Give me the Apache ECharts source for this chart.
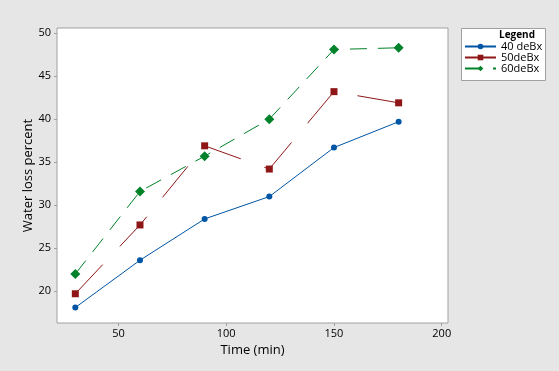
<!DOCTYPE html>
<html><head><meta charset="utf-8">
<script src="https://cdn.jsdelivr.net/npm/echarts@6/dist/echarts.min.js"></script>
<style>html,body{margin:0;padding:0;background:#e6e6e6;}#c{width:559px;height:371px;}</style>
</head><body><div id="c"></div>
<script>
var timeMin = [30, 60, 90, 120, 150, 180];
var s40 = [18.1, 23.6, 28.4, 31.0, 36.7, 39.7];
var s50 = [19.7, 27.7, 36.9, 34.2, 43.2, 41.9];
var s60 = [22.0, 31.6, 35.7, 40.0, 48.1, 48.3];
var seriesNames = ['40 deBx', '50deBx', '60deBx'];
var xTicks = [50, 100, 150, 200];
var yTicks = [20, 25, 30, 35, 40, 45, 50];

function pairs(ys){ return timeMin.map(function(x,i){return [x, ys[i]];}); }
var font = "'Open Sans', 'Noto Sans', sans-serif";
var chart = echarts.init(document.getElementById('c'), null, {renderer:'canvas'});
chart.setOption({
  backgroundColor: '#e6e6e6',
  animation: false,
  textStyle: {fontFamily: font},
  grid: {left: 57, top: 28, right: 111, bottom: 48, show: true, backgroundColor: '#ffffff', borderColor: '#a0a0a0', borderWidth: 1},
  xAxis: {
    type: 'value', min: 21.5, max: 202.9,
    name: 'Time (min)', nameLocation: 'middle', nameGap: 21,
    nameTextStyle: {fontSize: 13, color: '#000', fontFamily: font},
    axisLine: {show: false},
    axisTick: {show: true, length: 3, lineStyle: {color: '#a0a0a0'}, customValues: xTicks},
    axisLabel: {fontSize: 11, color: '#000', margin: 5, customValues: xTicks, fontFamily: font},
    splitLine: {show: false}
  },
  yAxis: {
    type: 'value', min: 16.3, max: 50.6,
    name: 'Water loss percent', nameLocation: 'middle', nameGap: 22, nameRotate: 90,
    nameMoveOverlap: false,
    nameTextStyle: {fontSize: 13, color: '#000', fontFamily: font},
    axisLine: {show: false},
    axisTick: {show: true, length: 3, lineStyle: {color: '#a0a0a0'}, customValues: yTicks},
    axisLabel: {fontSize: 11, color: '#000', margin: 6, customValues: yTicks, fontFamily: font},
    splitLine: {show: false}
  },
  legend: {
    orient: 'vertical', left: 464, top: 41, itemGap: 0, padding: 0,
    itemWidth: 31, itemHeight: 7,
    textStyle: {fontSize: 11, color: '#000', fontFamily: font, padding: [0,0,0,0]},
    data: seriesNames
  },
  graphic: [
    {type: 'rect', left: 461, top: 28, shape: {width: 84, height: 52}, style: {fill: '#fff', stroke: '#a0a0a0', lineWidth: 1}, z: -1},
    {type: 'text', left: 499, top: 30, style: {text: 'Legend', font: 'bold 10px ' + font, fill: '#000'}}
  ],
  series: [
    {name: seriesNames[0], type: 'line', data: pairs(s40), symbol: 'circle', symbolSize: 6,
     itemStyle: {color: '#0055a5'}, lineStyle: {width: 1, color: '#0055a5'}},
    {name: seriesNames[1], type: 'line', data: pairs(s50), symbol: 'rect', symbolSize: 7,
     itemStyle: {color: '#8e1616'}, lineStyle: {width: 1, color: '#8e1616', type: [40, 25]}},
    {name: seriesNames[2], type: 'line', data: pairs(s60), symbol: 'diamond', symbolSize: 10,
     itemStyle: {color: '#00822a'}, lineStyle: {width: 1, color: '#00822a', type: [17, 11]}}
  ]
});
</script></body></html>
